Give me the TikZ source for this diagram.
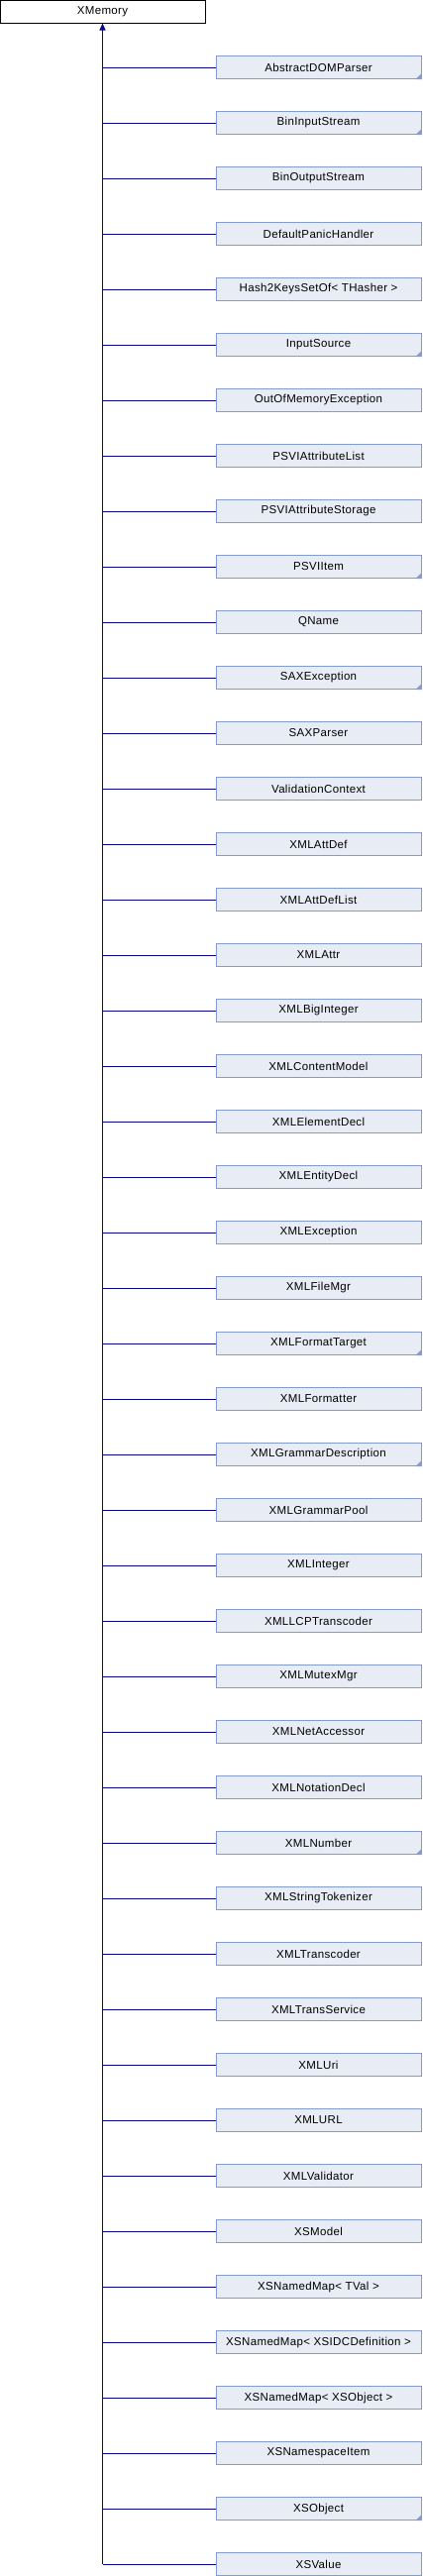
\documentclass[tikz,border=0pt]{standalone}
\usepackage{fontspec}
\setmainfont{Liberation Sans}[LetterSpace=3]
\usetikzlibrary{arrows.meta}
\definecolor{boxfill}{RGB}{232,236,244}
\definecolor{boxline}{RGB}{132,154,210}
\definecolor{edge}{RGB}{8,8,140}

\begin{document}
\begin{tikzpicture}
  [x=1pt,y=-1pt,
   every node/.style={minimum width=207pt, minimum height=23pt, inner sep=0pt,
     font=\fontsize{11.5}{13}\selectfont, line width=1pt},
   base/.style={draw=black, fill=white},
   cls/.style={draw=boxline, fill=boxfill},
   link/.style={draw=edge, line width=1pt}]
  \useasboundingbox (0,0) rectangle (426,2600);

  \node[base] (top) at (103.5,11.5) {XMemory};

  \foreach \name [count=\i] in {AbstractDOMParser, BinInputStream, BinOutputStream,
      DefaultPanicHandler, Hash2KeysSetOf< THasher >, InputSource,
      OutOfMemoryException, PSVIAttributeList, PSVIAttributeStorage, PSVIItem,
      QName, SAXException, SAXParser, ValidationContext, XMLAttDef,
      XMLAttDefList, XMLAttr, XMLBigInteger, XMLContentModel, XMLElementDecl,
      XMLEntityDecl, XMLException, XMLFileMgr, XMLFormatTarget, XMLFormatter,
      XMLGrammarDescription, XMLGrammarPool, XMLInteger, XMLLCPTranscoder,
      XMLMutexMgr, XMLNetAccessor, XMLNotationDecl, XMLNumber,
      XMLStringTokenizer, XMLTranscoder, XMLTransService, XMLUri, XMLURL,
      XMLValidator, XSModel, XSNamedMap< TVal >,
      XSNamedMap< XSIDCDefinition >, XSNamedMap< XSObject >,
      XSNamespaceItem, XSObject, XSValue}
  {
    \node[cls] (c\i) at (321.5,{68+56*(\i-1)}) {\name};
    \draw[link] (c\i.west) -- (c\i.west -| top.south);
  }

  % corner marks
  \foreach \i in {1,2,6,10,12,24,26,33,45}
    \fill[boxline] (c\i.south east) -- ++(-6,0) -- ++(6,-6) -- cycle;

  \draw[link, -{Triangle[length=7pt,width=6pt]}] (c46.west -| top.south) -- (top.south);

\end{tikzpicture}
\end{document}
